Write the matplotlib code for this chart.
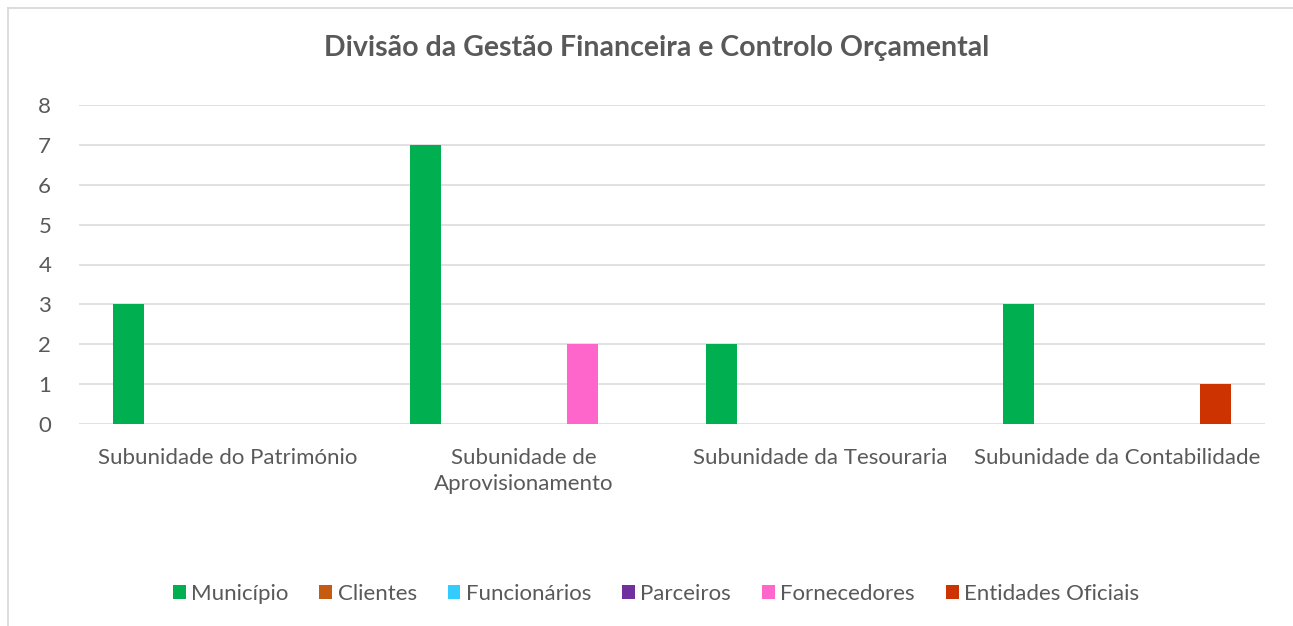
import matplotlib
matplotlib.use("Agg")
import matplotlib.pyplot as plt
from matplotlib.lines import Line2D
from matplotlib.patches import Patch
import numpy as np

plt.rcParams['font.family'] = ['Lato', 'DejaVu Sans']

title = "Divisão da Gestão Financeira e Controlo Orçamental"
categories = ["Subunidade do Património", "Subunidade de\nAprovisionamento",
              "Subunidade da Tesouraria", "Subunidade da Contabilidade"]
series_names = ["Município", "Clientes", "Funcionários", "Parceiros",
                "Fornecedores", "Entidades Oficiais"]
municipio = [3, 7, 2, 3]
clientes = [0, 0, 0, 0]
funcionarios = [0, 0, 0, 0]
parceiros = [0, 0, 0, 0]
fornecedores = [0, 2, 0, 0]
entidades_oficiais = [0, 0, 0, 1]
yticks = [0, 1, 2, 3, 4, 5, 6, 7, 8]

colors = ["#00B050", "#C55A11", "#33CCFF", "#7030A0", "#FF66CC", "#CC3300"]
values = [municipio, clientes, funcionarios, parceiros, fornecedores, entidades_oficiais]

W, H = 1293, 626
fig = plt.figure(figsize=(W/100, H/100), dpi=100)
ax = fig.add_axes([79/W, 1-424/H, (1265-79)/W, (424-105)/H])

txt = "#595959"
x = np.arange(len(categories))
slot = 0.133
bw = 0.105
for i, (vals, c) in enumerate(zip(values, colors)):
    ax.bar(x + 0.5 + (i - 2.5) * slot, vals, width=bw, color=c, zorder=3)

ax.set_xlim(0, len(categories))
ax.set_ylim(0, 8)
ax.set_yticks(yticks)
ax.set_yticklabels([str(v) for v in yticks], fontsize=16, color=txt)
ax.set_xticks(x + 0.5)
ax.set_xticklabels(categories, fontsize=16, color=txt, linespacing=1.4)
ax.tick_params(axis='both', length=0)
ax.tick_params(axis='y', pad=20)
ax.tick_params(axis='x', pad=17)
ax.grid(axis='y', color="#DEDEDE", linewidth=1.3, zorder=0)
for s in ax.spines.values():
    s.set_visible(False)

fig.text(657/W, 1-48/H, title, ha='center', va='center', fontsize=20.5,
         fontweight='bold', color=txt)

handles = [Patch(facecolor=c, edgecolor='none') for c in colors]
leg = fig.legend(handles, series_names, loc='center', bbox_to_anchor=(656/W, 1-594/H),
                 ncol=6, frameon=False, fontsize=16, handlelength=0.58, handleheight=0.58,
                 handletextpad=0.25, columnspacing=1.38)
for t in leg.get_texts():
    t.set_color(txt)

fig.add_artist(Line2D([8/W, 8/W], [0, 1-8/H], color="#D9D9D9", lw=1.3))
fig.add_artist(Line2D([8/W, 1], [1-8/H, 1-8/H], color="#D9D9D9", lw=1.3))

fig.savefig("out.png", dpi=100)
